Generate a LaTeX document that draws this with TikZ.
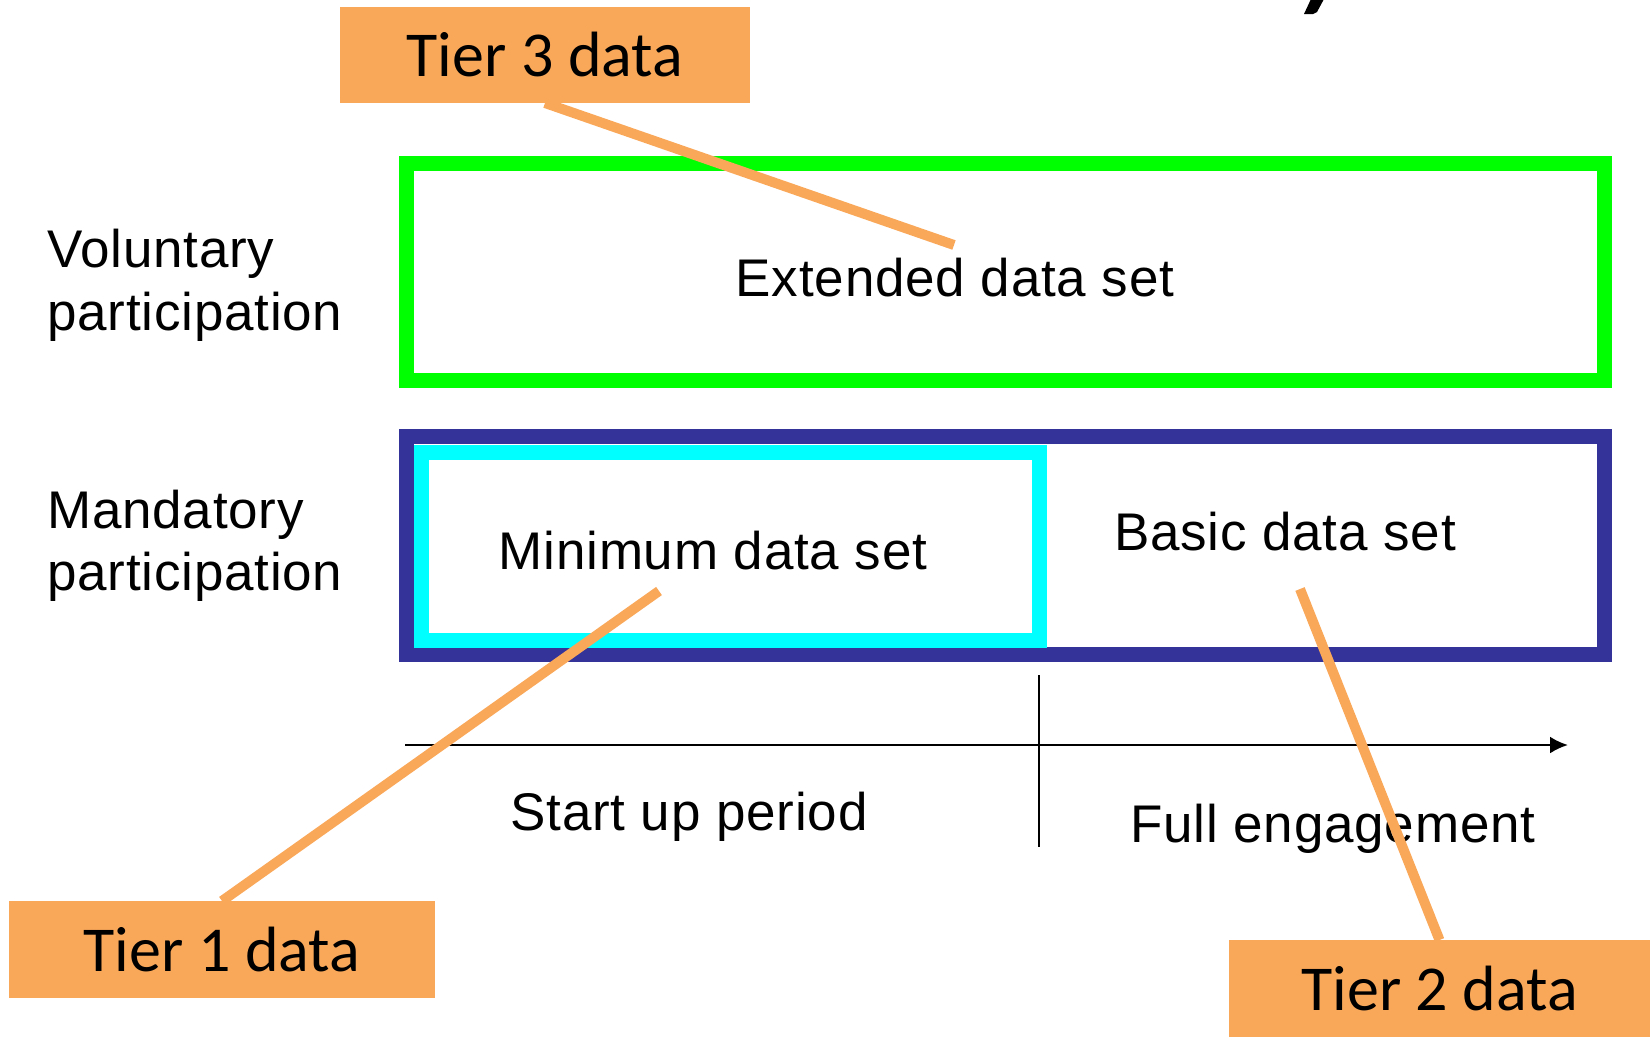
\documentclass[tikz,border=0pt]{standalone}
\usepackage{fontspec}
\setmainfont[LetterSpace=1.5]{Liberation Sans}
\newfontfamily\tierfont{Carlito}
\usetikzlibrary{arrows.meta}
\definecolor{setgreen}{HTML}{00FF00}
\definecolor{setnavy}{HTML}{333399}
\definecolor{setcyan}{HTML}{00FFFF}
\definecolor{tierorange}{HTML}{F9A85A}
\begin{document}
\begin{tikzpicture}[x=1pt,y=-1pt,
  setframe/.style={line width=15pt, inner sep=0pt, outer sep=0pt},
  lbl/.style={font=\fontsize{53}{60}\selectfont, inner sep=0pt},
  tierbox/.style={fill=tierorange, inner sep=0pt, outer sep=0pt,
    font=\tierfont\fontsize{64}{70}\selectfont},
  tierline/.style={draw=tierorange, line width=10pt},
  axisline/.style={draw=black, line width=2.5pt}]
\useasboundingbox (0,0) rectangle (1650,1037);

% tail of the title glyph cut at the top edge
\fill (1311,-1) -- (1324,-1) -- (1317,12) -- (1313,14) -- (1304,14) -- cycle;

% participation frames
\node[setframe, draw=setgreen, minimum width=1198pt, minimum height=217pt]
  (voluntary) at (1005.5,271.5) {};
\node[setframe, draw=setnavy, minimum width=1198pt, minimum height=217.5pt]
  (mandatory) at (1005.5,545.25) {};
\node[setframe, draw=setcyan, minimum width=618pt, minimum height=188pt]
  (minimum) at (730.5,546.5) {};

% data set labels
\node[lbl, anchor=base] (extlbl) at (955,296) {Extended data set};
\node[lbl, anchor=base] (minlbl) at (713,569) {Minimum data set};
\node[lbl, anchor=base] (baslbl) at (1285,550) {Basic data set};

% participation labels
\node[lbl, anchor=base west] (vol1) at (47,267) {Voluntary};
\node[lbl, anchor=base west] (vol2) at (47,330) {participation};
\node[lbl, anchor=base west] (man1) at (47,528) {Mandatory};
\node[lbl, anchor=base west] (man2) at (47,590) {participation};

% time axis
\coordinate (axstart) at (405,745);
\coordinate (axend) at (1568,745);
\coordinate (divtop) at (1039,675);
\coordinate (divbot) at (1039,847);
\draw[axisline, -{Latex[length=18pt,width=17pt]}] (axstart) -- (axend);
\draw[axisline] (divtop) -- (divbot);
\node[lbl, anchor=base] (startlbl) at (689,830) {Start up period};
\node[lbl, anchor=base] (fulllbl) at (1333,842) {Full engagement};

% tier callouts
\node[tierbox, minimum width=410pt, minimum height=96pt] (tier3) at (545,55) {Tier 3 data};
\node[tierbox, minimum width=426pt, minimum height=97pt] (tier1) at (222,949.5) {Tier 1 data};
\node[tierbox, minimum width=421pt, minimum height=97pt] (tier2) at (1439.5,988.5) {Tier 2 data};

\coordinate (p3) at (954,245);
\coordinate (p1) at (659,591);
\coordinate (p2) at (1300,589);
\draw[tierline] (tier3.south) -- (p3);
\draw[tierline] (tier1.north) -- (p1);
\draw[tierline] (tier2.north) -- (p2);
\end{tikzpicture}
\end{document}
